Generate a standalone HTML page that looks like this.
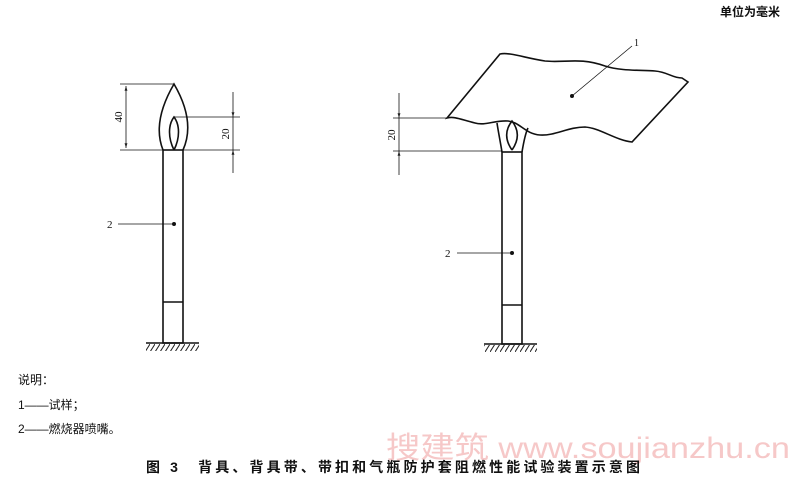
<!DOCTYPE html>
<html><head><meta charset="utf-8"><style>
html,body{margin:0;padding:0;background:#fff;width:800px;height:482px;overflow:hidden}
svg{position:absolute;left:0;top:0}
.t{font-family:"Liberation Serif","Noto Serif CJK SC",serif;fill:#111}
.c{font-family:"Liberation Sans","Noto Sans CJK SC",sans-serif;fill:#111}
</style></head><body>
<svg width="800" height="482" viewBox="0 0 800 482">
<defs>
<pattern id="h" width="5" height="8" patternUnits="userSpaceOnUse"><line x1="5" y1="0" x2="0" y2="8" stroke="#222" stroke-width="1"/></pattern>
<marker id="a" viewBox="0 0 10 10" refX="10" refY="5" markerWidth="6" markerHeight="6" orient="auto-start-reverse"><path d="M0,2 L10,5 L0,8z" fill="#222"/></marker>
</defs>
<g stroke="#111" fill="none" stroke-width="1.6">
<rect x="163" y="150" width="20" height="193"/>
<line x1="163" y1="302" x2="183" y2="302"/>
<line x1="146" y1="343" x2="199" y2="343"/>
<path d="M163,150 C155,130 160,108 174,84 C188,108 192,130 183,150"/>
<path d="M174,150 C168,138 168,125 174,117 C180,125 180,138 174,150"/>
<rect x="502" y="152" width="20" height="192"/>
<line x1="502" y1="305" x2="522" y2="305"/>
<line x1="484" y1="344" x2="537" y2="344"/>
<path d="M502,152 C500,140 498,130 497,123 M522,152 C524,140 526,132 528,128"/>
<path d="M512,150 C505,140 505,130 512,121 C519,130 519,140 512,150"/>
<path d="M447,118 L500,54 C510,52 525,58 545,61 C565,63 580,57 605,66 C620,71 640,70 655,71 C668,72 672,78 682,78 L688,82 L632,142 C615,140 600,128 585,127 C568,127 555,136 540,135 C525,134 520,122 508,121 C495,120 485,126 475,123 C462,120 455,116 447,118 Z"/>
</g>
<g stroke="#111" stroke-width="0.8" fill="none">
<line x1="120" y1="84" x2="174" y2="84"/><line x1="120" y1="150" x2="163" y2="150"/>
<line x1="126" y1="86" x2="126" y2="148" marker-start="url(#a)" marker-end="url(#a)"/>
<line x1="174" y1="117" x2="240" y2="117"/><line x1="183" y1="150" x2="240" y2="150"/>
<line x1="233" y1="92" x2="233" y2="117" marker-end="url(#a)"/>
<line x1="233" y1="173" x2="233" y2="150" marker-end="url(#a)"/>
<line x1="233" y1="117" x2="233" y2="150"/>
<line x1="118" y1="224" x2="172" y2="224"/>
<line x1="393" y1="118" x2="447" y2="118"/><line x1="393" y1="151" x2="502" y2="151"/>
<line x1="399" y1="93" x2="399" y2="118" marker-end="url(#a)"/>
<line x1="399" y1="175" x2="399" y2="151" marker-end="url(#a)"/>
<line x1="399" y1="118" x2="399" y2="151"/>
<line x1="457" y1="253" x2="510" y2="253"/>
<line x1="632" y1="46" x2="572" y2="96"/>
</g>
<rect x="146" y="344" width="53" height="7" fill="url(#h)"/>
<rect x="484" y="345" width="53" height="7" fill="url(#h)"/>
<circle cx="174" cy="224" r="2" fill="#111"/>
<circle cx="512" cy="253" r="2" fill="#111"/>
<circle cx="572" cy="96" r="2" fill="#111"/>
<text class="t" font-size="11" x="107" y="228">2</text>
<text class="t" font-size="11" x="445" y="257">2</text>
<text class="t" font-size="10" x="634" y="46">1</text>
<text class="t" font-size="11" transform="translate(122,117) rotate(-90)" text-anchor="middle">40</text>
<text class="t" font-size="11" transform="translate(229,134) rotate(-90)" text-anchor="middle">20</text>
<text class="t" font-size="11" transform="translate(395,135) rotate(-90)" text-anchor="middle">20</text>
<text class="c" font-size="12" x="720" y="16" font-weight="bold">单位为毫米</text>
<text class="c" font-size="12" x="18" y="384">说明：</text>
<text class="c" font-size="12" x="18" y="409">1——试样；</text>
<text class="c" font-size="12" x="18" y="433">2——燃烧器喷嘴。</text>
<text class="c" font-size="30" x="386" y="458" style="fill:#f6c8c8" textLength="404" lengthAdjust="spacingAndGlyphs">搜建筑 www.soujianzhu.cn</text>
<text class="c" font-size="14" font-weight="bold" x="146" y="472" textLength="494" lengthAdjust="spacing">图 3　背具、背具带、带扣和气瓶防护套阻燃性能试验装置示意图</text>
</svg>
</body></html>
